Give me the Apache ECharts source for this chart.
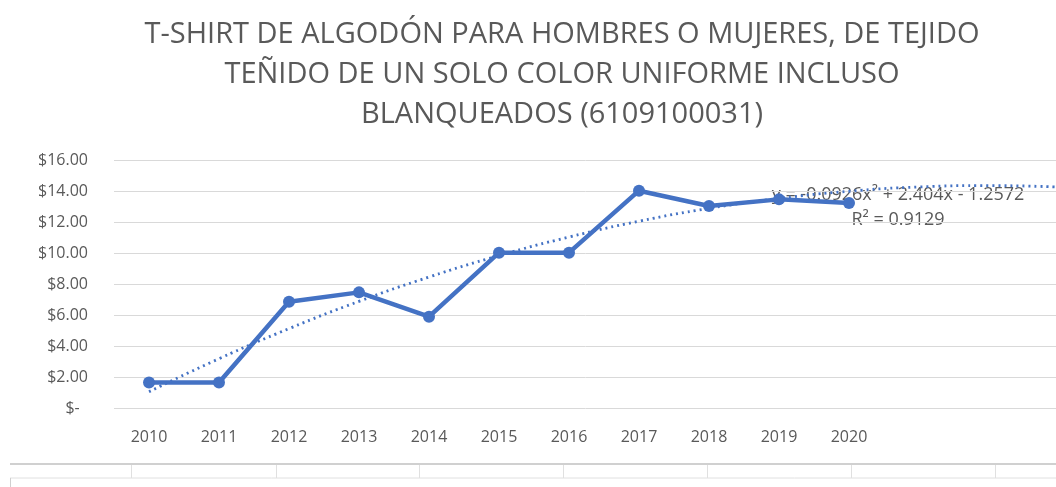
<!DOCTYPE html>
<html>
<head>
<meta charset="utf-8">
<script src="https://cdn.jsdelivr.net/npm/echarts@6/dist/echarts.min.js"></script>
<style>
  html, body { margin: 0; padding: 0; background: #fff; }
  #chart { width: 1056px; height: 487px; }
</style>
</head>
<body>
<div id="chart"></div>
<script>
// values
let years = ['2010', '2011', '2012', '2013', '2014', '2015', '2016', '2017', '2018', '2019', '2020', '', '', ''];
let prices = [1.65, 1.65, 6.86, 7.46, 5.89, 10.02, 10.02, 14.02, 13.03, 13.46, 13.22];
// polynomial trend (Excel forecast), estimated from the dotted line
let trend = [1.05, 3.18, 5.12, 6.88, 8.45, 9.83, 11.03, 12.05, 12.88, 13.52, 13.98, 14.26, 14.35, 14.25];
let equation = 'y = -0.0926x\u00b2 + 2.404x - 1.2572';
let rSquared = 'R\u00b2 = 0.9129';

let chartDom = document.getElementById('chart');
let myChart = echarts.init(chartDom, null, { renderer: 'canvas' });

let font = 'Open Sans';
let grey = '#595959';

let option = {
    animation: false,
    title: {
        text: 'T-SHIRT DE ALGODÓN PARA HOMBRES O MUJERES, DE TEJIDO\nTEÑIDO DE UN SOLO COLOR UNIFORME INCLUSO\nBLANQUEADOS (6109100031)',
        left: 557,
        top: 10,
        textAlign: 'center',
        textStyle: {
            fontFamily: font,
            fontSize: 29,
            fontWeight: 'normal',
            color: grey,
            lineHeight: 40
        }
    },
    grid: {
        left: 114,
        width: 980,
        top: 160,
        bottom: 79,
        outerBoundsMode: 'none'
    },
    xAxis: {
        type: 'category',
        data: years,
        boundaryGap: true,
        axisLine: { show: false },
        axisTick: { show: false },
        axisLabel: {
            margin: 21,
            fontFamily: font,
            fontSize: 16,
            color: grey
        }
    },
    yAxis: {
        type: 'value',
        min: 0,
        max: 16,
        interval: 2,
        axisLine: { show: false },
        axisTick: { show: false },
        splitLine: { lineStyle: { color: '#d9d9d9', width: 1 } },
        axisLabel: {
            margin: 26,
            fontFamily: font,
            fontSize: 16,
            color: grey,
            formatter: function (v) {
                return v === 0 ? '$-  ' : '$' + v.toFixed(2);
            }
        }
    },
    series: [
        {
            type: 'line',
            data: trend,
            smooth: true,
            symbol: 'none',
            z: 3,
            lineStyle: { color: '#4472c4', width: 2.8, type: [2, 4] }
        },
        {
            type: 'line',
            data: prices,
            symbol: 'circle',
            symbolSize: 12,
            z: 2,
            itemStyle: { color: '#4472c4' },
            lineStyle: { color: '#4472c4', width: 4.5 }
        }
    ],
    graphic: [
        {
            type: 'text',
            x: 898,
            y: 195,
            style: { text: equation, font: '18px "Open Sans"', fill: grey, align: 'center', verticalAlign: 'middle' }
        },
        {
            type: 'text',
            x: 898,
            y: 220,
            style: { text: rSquared, font: '18px "Open Sans"', fill: grey, align: 'center', verticalAlign: 'middle' }
        },
        {
            type: 'line',
            shape: { x1: 10, y1: 464, x2: 1056, y2: 464 },
            style: { stroke: '#d0d0d0', lineWidth: 2 }
        },
        {
            type: 'line',
            shape: { x1: 10, y1: 478, x2: 1056, y2: 478 },
            style: { stroke: '#e0e0e0', lineWidth: 1 }
        },
        {
            type: 'line',
            shape: { x1: 10.5, y1: 478, x2: 10.5, y2: 487 },
            style: { stroke: '#d0d0d0', lineWidth: 1 }
        }
    ]
};

[131, 276, 419, 563, 707, 851, 995].forEach(function (x) {
    option.graphic.push({
        type: 'line',
        shape: { x1: x + 0.5, y1: 465, x2: x + 0.5, y2: 478 },
        style: { stroke: '#e0e0e0', lineWidth: 1 }
    });
});

option && myChart.setOption(option);
</script>
</body>
</html>
